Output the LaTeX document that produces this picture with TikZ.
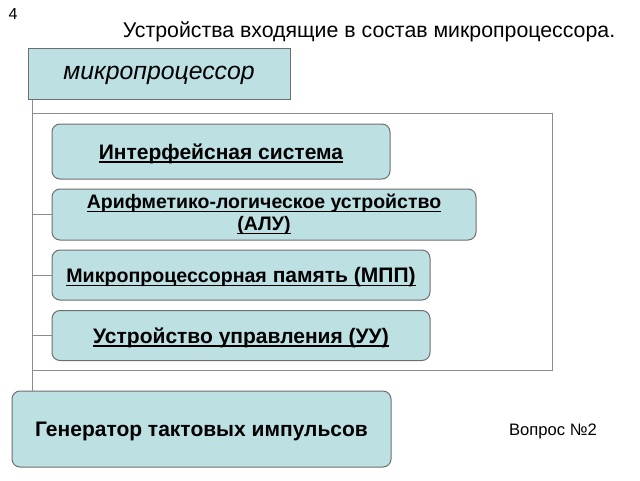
\documentclass[tikz,border=0pt]{standalone}
\usepackage{fontspec}
\setmainfont{Liberation Sans}
\newcommand\myul[1]{\setbox0\hbox{#1}\rlap{\rule[-3.5pt]{\wd0}{1.4pt}}\box0}
\definecolor{boxfill}{HTML}{BDE0E3}
\definecolor{boxline}{HTML}{6E6E6E}
\definecolor{frameline}{HTML}{8C8C8C}
\begin{document}
\begin{tikzpicture}[x=1pt,y=-1pt,
  rbox/.style={draw=boxline, line width=1pt, fill=boxfill, rounded corners=8pt, inner sep=0pt, align=center, font=\bfseries\fontsize{21}{24}\selectfont},
  sqbox/.style={draw=boxline, line width=1pt, fill=boxfill, inner sep=0pt},
  wire/.style={draw=frameline, line width=1pt}]
\useasboundingbox (0,0) rectangle (640,480);
\node[anchor=west, font=\fontsize{16}{18}\selectfont] (num) at (5,14) {4};
\node[font=\fontsize{21.3}{24}\selectfont] (title) at (369,32) {Устройства входящие в состав микропроцессора.};
\node[sqbox, minimum width=262pt, minimum height=51pt, text depth=1pt, font=\itshape\fontsize{24.8}{28}\selectfont] (mp) at (159,73.5) {микропроцессор};
\coordinate (spine) at (33,113);
\coordinate (fr1) at (552,113);
\coordinate (fr2) at (552,370);
\coordinate (fr3) at (33,370);
\node[rbox, minimum width=338pt, minimum height=55pt, text depth=0pt] (ifs) at (221,151.5) {\myul{Интерфейсная система}};
\node[rbox, minimum width=424pt, minimum height=51pt, font=\bfseries\fontsize{19.5}{22}\selectfont] (alu) at (264,214.5) {\myul{Арифметико-логическое устройство}\\\myul{(АЛУ)}};
\node[rbox, minimum width=378pt, minimum height=50pt, text depth=0pt] (mpp) at (241,275) {\myul{{\fontsize{19.6}{21}\selectfont Микропроцессорная} память (МПП)}};
\node[rbox, minimum width=378pt, minimum height=50pt, text depth=0pt] (uu) at (241,335.5) {\myul{Устройство управления (УУ)}};
\node[rbox, minimum width=379pt, minimum height=76pt, text depth=0pt] (gen) at (201.5,429) {Генератор тактовых импульсов};
\node[font=\fontsize{16.6}{19}\selectfont] (q) at (553,431) {Вопрос №2};
\draw[wire] ([xshift=5pt]mp.south west) -- ([xshift=5pt]mp.south west |- gen.north);
\draw[wire] (spine) -- (fr1) -- (fr2) -- (fr3);
\draw[wire] (spine |- alu.west) -- (alu.west);
\draw[wire] (spine |- mpp.west) -- (mpp.west);
\draw[wire] (spine |- uu.west) -- (uu.west);
\end{tikzpicture}
\end{document}
